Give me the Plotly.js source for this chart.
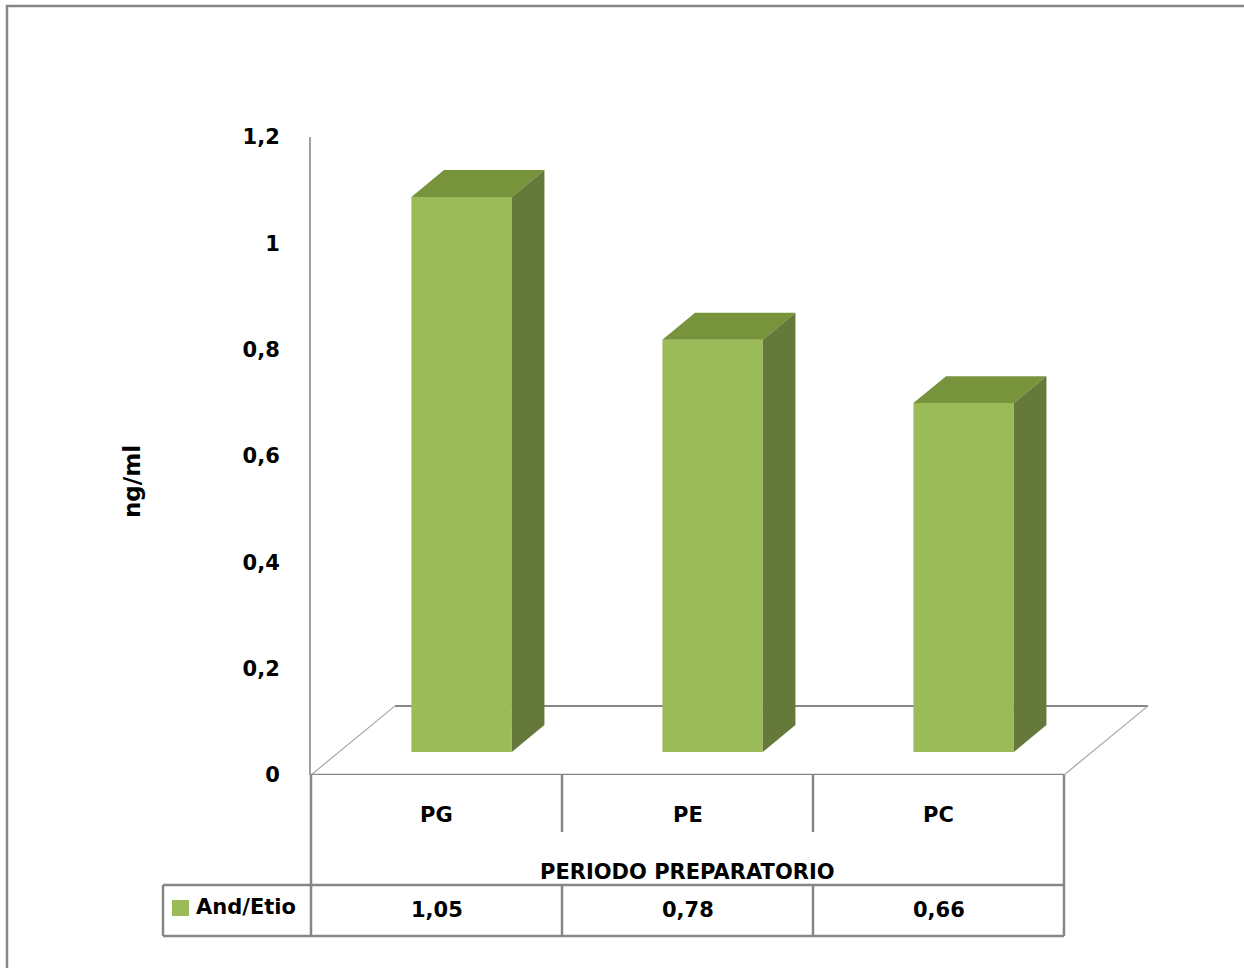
<!DOCTYPE html>
<html>
<head>
<meta charset="utf-8">
<script src="https://cdn.plot.ly/plotly-3.0.1.min.js"></script>
<style>
  html, body { margin: 0; padding: 0; background: #ffffff; }
  #chart { width: 1244px; height: 968px; }
</style>
</head>
<body>
<div id="chart"></div>
<script>
// ---- data ----
const categories = ['PG', 'PE', 'PC'];
const values = [1.05, 0.78, 0.66];
const seriesName = 'And/Etio';
const groupTitle = 'PERIODO PREPARATORIO';
const yTitle = 'ng/ml';
const yTickVals = [0, 0.2, 0.4, 0.6, 0.8, 1, 1.2];
const yTickText = ['0', '0,2', '0,4', '0,6', '0,8', '1', '1,2'];

// ---- layout helpers (pixel -> paper) ----
const W = 1244, H = 968;
const px = v => v / W;
const py = v => 1 - v / H;

const FONT = '"DejaVu Sans", "Liberation Sans", Arial, sans-serif';
const GRID = '#868686';

// category geometry (in x data units, 1 unit = one category column)
const barW = 0.40;      // bar width
const barOff = 0.10;    // shift of bar front face toward the back (3D)
const depthX = 0.13;    // 3D depth of the bar, x units
const depthY = 0.051;   // 3D depth of the bar, y2 units
const floorDX = 0.335;  // floor depth, x units
const floorDY = 0.13;   // floor depth, y units

const xs = categories.map((c, i) => i);
const fmt = v => String(v).replace('.', ',');

const traces = [];
// front faces
traces.push({
  type: 'bar', x: xs, y: values, xaxis: 'x', yaxis: 'y2',
  width: barW, offset: barOff - barW / 2,
  marker: { color: '#9bbb59', line: { width: 0 } },
  name: seriesName, hoverinfo: 'y'
});
// top and side faces
values.forEach((v, i) => {
  const xl = i + barOff - barW / 2, xr = i + barOff + barW / 2;
  traces.push({
    type: 'scatter', mode: 'lines', xaxis: 'x', yaxis: 'y2',
    x: [xl, xl + depthX, xr + depthX, xr, xl],
    y: [v, v + depthY, v + depthY, v, v],
    fill: 'toself', fillcolor: '#77933c', line: { width: 0 },
    hoverinfo: 'skip'
  });
  traces.push({
    type: 'scatter', mode: 'lines', xaxis: 'x', yaxis: 'y2',
    x: [xr, xr, xr + depthX, xr + depthX, xr],
    y: [0, v, v + depthY, depthY, 0],
    fill: 'toself', fillcolor: '#64793a', line: { width: 0 },
    hoverinfo: 'skip'
  });
});

const shapes = [];
// outer chart border
shapes.push({ type: 'rect', xref: 'paper', yref: 'paper', x0: px(7), x1: px(1260), y0: py(6), y1: py(990),
  line: { color: GRID, width: 2.5 }, fillcolor: 'rgba(0,0,0,0)', layer: 'below' });
// floor
shapes.push({ type: 'line', xref: 'x', yref: 'y', x0: -0.5 + floorDX, x1: 2.5 + floorDX, y0: floorDY, y1: floorDY,
  line: { color: GRID, width: 2 }, layer: 'below' });
shapes.push({ type: 'line', xref: 'x', yref: 'y', x0: -0.5, x1: -0.5 + floorDX, y0: 0, y1: floorDY,
  line: { color: '#a6a6a6', width: 1.2 }, layer: 'below' });
shapes.push({ type: 'line', xref: 'x', yref: 'y', x0: 2.5, x1: 2.5 + floorDX, y0: 0, y1: floorDY,
  line: { color: '#a6a6a6', width: 1.2 }, layer: 'below' });
shapes.push({ type: 'line', xref: 'x', yref: 'y', x0: -0.5, x1: 2.5, y0: 0, y1: 0,
  line: { color: GRID, width: 2.5 } });
// data table
const tline = (x0, y0, x1, y1) => shapes.push({ type: 'line', xref: 'paper', yref: 'paper',
  x0: px(x0), x1: px(x1), y0: py(y0), y1: py(y1), line: { color: GRID, width: 2.5 } });
tline(311, 775, 311, 936);
tline(1064, 775, 1064, 936);
tline(562, 775, 562, 832);
tline(813, 775, 813, 832);
tline(562, 885, 562, 936);
tline(813, 885, 813, 936);
tline(163, 885, 1064, 885);
tline(163, 936, 1064, 936);
tline(163, 885, 163, 936);
// legend key
shapes.push({ type: 'rect', xref: 'paper', yref: 'paper', x0: px(172), x1: px(189), y0: py(900), y1: py(916),
  fillcolor: '#9bbb59', line: { width: 0 } });

const tf = { family: FONT, size: 21, color: '#000000', weight: 'bold' };
const annotations = [];
categories.forEach((c, i) => {
  annotations.push({ xref: 'x', yref: 'paper', x: i, y: py(815), text: c, showarrow: false,
    xanchor: 'center', yanchor: 'middle', font: tf });
  annotations.push({ xref: 'x', yref: 'paper', x: i, y: py(910), text: fmt(values[i]), showarrow: false,
    xanchor: 'center', yanchor: 'middle', font: tf });
});
annotations.push({ xref: 'x', yref: 'paper', x: 1, y: py(872), text: groupTitle, showarrow: false,
  xanchor: 'center', yanchor: 'middle', font: tf });
annotations.push({ xref: 'paper', yref: 'paper', x: px(194), y: py(907), text: seriesName, showarrow: false,
  xanchor: 'left', yanchor: 'middle', font: tf });
annotations.push({ xref: 'paper', yref: 'paper', x: px(132), y: py(482), text: yTitle, showarrow: false,
  textangle: -90, xanchor: 'center', yanchor: 'middle',
  font: { family: FONT, size: 23, color: '#000000', weight: 'bold' } });

const layout = {
  width: W, height: H,
  margin: { l: 0, r: 0, t: 0, b: 0, pad: 0 },
  paper_bgcolor: '#ffffff', plot_bgcolor: 'rgba(0,0,0,0)',
  showlegend: false,
  xaxis: {
    domain: [px(311), px(311 + 3.4 * 251)], range: [-0.5, 2.9], anchor: 'y',
    visible: false, fixedrange: true
  },
  yaxis: {
    domain: [py(775), py(137)], range: [0, 1.2], anchor: 'x',
    tickvals: yTickVals, ticktext: yTickText,
    ticks: 'outside', ticklen: 25, tickcolor: 'rgba(0,0,0,0)',
    showline: true, linecolor: '#a0a0a0', linewidth: 2,
    showgrid: false, zeroline: false, fixedrange: true,
    tickfont: { family: FONT, size: 21, color: '#000000', weight: 'bold' }
  },
  yaxis2: {
    domain: [py(752), py(752 - 1.2 * 528.6)], range: [0, 1.2], anchor: 'x',
    visible: false, fixedrange: true
  },
  shapes: shapes,
  annotations: annotations
};

Plotly.newPlot('chart', traces, layout, { displayModeBar: false, staticPlot: true });
</script>
</body>
</html>
